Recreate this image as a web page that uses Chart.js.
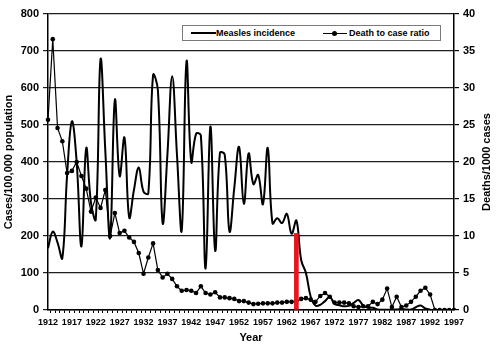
<!DOCTYPE html>
<html>
<head>
<meta charset="utf-8">
<script src="https://cdn.jsdelivr.net/npm/chart.js@4.4.0/dist/chart.umd.min.js"></script>
<style>
html,body{margin:0;padding:0;background:#fff;}
#wrap{position:relative;width:500px;height:357px;overflow:hidden;}
#c{position:absolute;left:0;top:0;}
#legend{position:absolute;left:182px;top:25px;width:257px;height:14px;border:1px solid #7a7a7a;background:#fff;
  font:bold 9px "Liberation Sans",Arial,Helvetica,sans-serif;color:#000;}
#legend .t{position:absolute;top:0;line-height:14px;white-space:nowrap;}
#legend .ln{position:absolute;background:#000;}
#legend .dot{position:absolute;width:5px;height:5px;border-radius:50%;background:#000;}
</style>
</head>
<body>
<div id="wrap">
  <canvas id="c" width="500" height="357"></canvas>
  <div id="legend"></div>
</div>
<script>
// ---- data ----
const years = [1912,1913,1914,1915,1916,1917,1918,1919,1920,1921,1922,1923,1924,1925,1926,1927,1928,1929,1930,
  1931,1932,1933,1934,1935,1936,1937,1938,1939,1940,1941,1942,1943,1944,1945,1946,1947,1948,1949,1950,
  1951,1952,1953,1954,1955,1956,1957,1958,1959,1960,1961,1962,1963,1964,1965,1966,1967,1968,1969,1970,
  1971,1972,1973,1974,1975,1976,1977,1978,1979,1980,1981,1982,1983,1984,1985,1986,1987,1988,1989,1990,
  1991,1992,1993,1994,1995,1996,1997];

const tickLabels = [1912,1917,1922,1927,1932,1937,1942,1947,1952,1957,1962,1967,1972,1977,1982,1987,1992,1997];

// cases per 100,000 population
const measlesIncidence = [167,212,182,140,365,510,400,172,437,290,245,677,430,195,568,362,466,250,325,
  385,320,315,635,595,235,420,632,420,215,672,400,476,472,112,496,160,425,420,212,
  330,441,287,423,340,365,286,438,234,248,235,260,206,242,135,100,36,12,14,24,
  36,16,13,10,11,19,27,12,6,6,1.5,0.7,0.6,1.1,1.2,2.6,1.5,1.4,7.5,12,
  4,0.9,0.1,0.4,0.1,0.2,0.1];

// deaths per 1000 cases
const deathToCaseRatio = [25.7,36.6,24.6,22.8,18.5,18.8,20.0,18.1,16.4,13.3,15.2,13.8,16.2,10.0,13.1,10.4,10.7,9.8,9.2,
  7.7,4.9,7.1,9.0,5.4,4.4,4.9,4.2,3.2,2.6,2.7,2.6,2.3,3.2,2.3,2.1,2.4,1.7,1.7,1.6,
  1.5,1.2,1.2,1.0,0.8,0.85,0.9,0.9,0.9,1.0,1.0,1.1,1.1,1.2,1.5,1.6,1.4,1.1,1.9,2.3,
  1.8,1.0,1.0,1.0,0.9,0.5,0.4,0.5,0.5,1.1,0.8,1.4,2.9,0.4,1.8,0.4,0.6,1.1,1.8,2.6,
  3.0,2.1,0,0,0,0,0];

// vertical red marker (vaccine introduction)
const markerYears = [1964];
const markerLevels = [207];

const seriesNames = ['Measles incidence', 'Death to case ratio'];
const axisTitles = ['Year', 'Cases/100,000 population', 'Deaths/1000 cases'];
const leftTicks = [0,100,200,300,400,500,600,700,800];
const rightTicks = [0,5,10,15,20,25,30,35,40];

// ---- chart ----
const FONT = '"Liberation Sans", Arial, Helvetica, sans-serif';
const labels = years.map(String);
const markerData = years.map(y => { const i = markerYears.indexOf(y); return i >= 0 ? markerLevels[i] : null; });

const rightTitle = {
  id: 'rightTitle',
  afterDraw(chart) {
    const s = chart.scales.y1, c = chart.ctx;
    c.save();
    c.translate(s.right - 13, (s.top + s.bottom) / 2);
    c.rotate(-Math.PI / 2);
    c.font = 'bold 11px ' + FONT;
    c.fillStyle = '#000';
    c.textAlign = 'center';
    c.textBaseline = 'middle';
    c.fillText(axisTitles[2], 0, 0);
    c.restore();
  }
};

const tickFont = {family: FONT, size: 11, weight: 'bold'};

const chart = new Chart(document.getElementById('c'), {
  type: 'line',
  data: {
    labels: labels,
    datasets: [
      {type: 'bar', label: 'marker', data: markerData, backgroundColor: '#e8141e', borderWidth: 0,
        barThickness: 4, yAxisID: 'y', order: 0},
      {label: seriesNames[0], data: measlesIncidence, borderColor: '#000', borderWidth: 2, pointRadius: 0,
        tension: 0.4, fill: false, yAxisID: 'y', order: 1},
      {label: seriesNames[1], data: deathToCaseRatio, borderColor: '#000', borderWidth: 1.2, pointRadius: 2.3,
        pointBackgroundColor: '#000', pointBorderWidth: 0, tension: 0, fill: false, yAxisID: 'y1', order: 2}
    ]
  },
  options: {
    responsive: false,
    animation: false,
    devicePixelRatio: 1,
    layout: {padding: {top: 14, left: 0, right: 0, bottom: 0}},
    plugins: {legend: {display: false}, tooltip: {enabled: false}},
    scales: {
      x: {
        type: 'category', offset: false,
        grid: {display: true, drawOnChartArea: false, drawTicks: true, tickLength: 3, color: '#000', lineWidth: 1},
        border: {display: true, color: '#000', width: 1.5},
        ticks: {autoSkip: false, maxRotation: 0, minRotation: 0, padding: 4, color: '#000',
          font: {family: FONT, size: 9, weight: 'bold'},
          callback: function(v) { const l = this.getLabelForValue(v); return tickLabels.includes(+l) ? l : ''; }},
        title: {display: true, text: axisTitles[0], color: '#000', font: {family: FONT, size: 11, weight: 'bold'},
          padding: {top: 0, bottom: 12}},
        afterFit(s) { s.height = 47; }
      },
      y: {
        position: 'left', min: 0, max: 800,
        afterBuildTicks(s) { s.ticks = leftTicks.map(v => ({value: v})); },
        grid: {color: '#1e1e1e', lineWidth: 1.2, tickLength: 5},
        border: {display: true, color: '#000', width: 1.5},
        ticks: {color: '#000', padding: 4, font: tickFont},
        title: {display: true, text: axisTitles[1], color: '#000', font: {family: FONT, size: 11, weight: 'bold'},
          padding: {top: 2, bottom: 0}},
        afterFit(s) { s.width = 48; }
      },
      y1: {
        position: 'right', min: 0, max: 40,
        afterBuildTicks(s) { s.ticks = rightTicks.map(v => ({value: v})); },
        grid: {drawOnChartArea: false, color: '#000', lineWidth: 1.2, tickLength: 5},
        border: {display: true, color: '#000', width: 1.5},
        ticks: {color: '#000', padding: 4, font: tickFont},
        afterFit(s) { s.width = 46; }
      }
    }
  },
  plugins: [rightTitle]
});

// ---- HTML legend built from the chart's datasets ----
(function buildLegend() {
  const lg = document.getElementById('legend');
  const ds = chart.data.datasets;
  const add = (cls, css, text) => {
    const e = document.createElement(cls === 't' ? 'span' : 'div');
    e.className = cls; Object.assign(e.style, css);
    if (text) e.textContent = text;
    lg.appendChild(e);
  };
  // measles incidence entry
  add('ln', {left: '8px', top: '6px', width: '25px', height: ds[1].borderWidth + 'px'});
  add('t', {left: '33px'}, ds[1].label);
  // death to case ratio entry
  add('ln', {left: '140px', top: '7px', width: '24px', height: '1px'});
  add('dot', {left: '149px', top: '5px'});
  add('t', {left: '166px'}, ds[2].label);
})();
</script>
</body>
</html>
